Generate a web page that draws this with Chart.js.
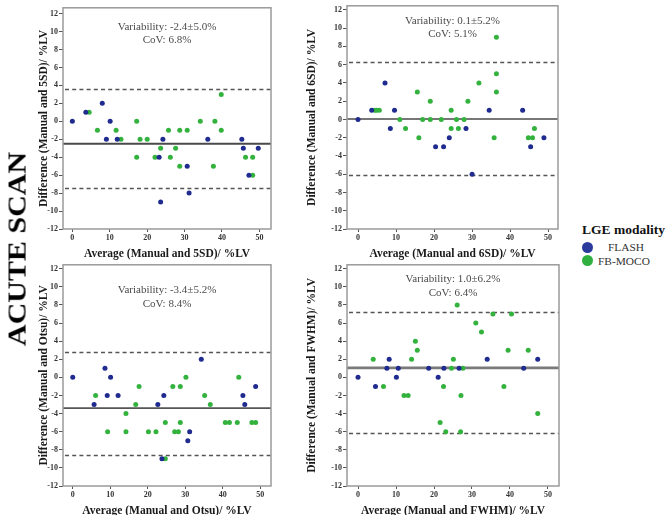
<!DOCTYPE html>
<html>
<head>
<meta charset="utf-8">
<script src="https://cdn.jsdelivr.net/npm/chart.js@4/dist/chart.umd.min.js"></script>
<style>
html,body{margin:0;padding:0;background:#fff;}
body{width:666px;height:515px;position:relative;overflow:hidden;font-family:"Liberation Serif",serif;}
canvas{position:absolute;}
.t{position:absolute;white-space:nowrap;}
</style>
</head>
<body>
<script>
// ---------- data ----------
const methods = ["5SD", "6SD", "Otsu", "FWHM"];
const seriesNames = ["FLASH", "FB-MOCO"];
const xTicks = [0, 10, 20, 30, 40, 50];
const yTicks = [-12, -10, -8, -6, -4, -2, 0, 2, 4, 6, 8, 10, 12];

const flash5SD = [[0,0],[3.6,1],[8,2],[9.1,-2],[10.1,0],[12,-2],[23.2,-4],[23.6,-9],[24.2,-2],[30.7,-5],[31.2,-8],[36.2,-2],[45.3,-2],[45.7,-3],[47.2,-6],[49.7,-3]];
const moco5SD = [[4.5,1],[6.7,-1],[11.7,-1],[13,-2],[17.2,0],[17.2,-4],[18.1,-2],[20,-2],[22.1,-4],[23.6,-3],[25.7,-1],[26.2,-4],[27.6,-3],[28.7,-1],[28.7,-5],[30.7,-1],[34.2,0],[37.7,-5],[38.1,0],[39.8,-1],[39.8,3],[46.3,-4],[48.2,-6],[48.2,-4]];

const flash6SD = [[0,0],[3.6,1],[7.1,4],[8.5,-1],[9.6,1],[20.4,-3],[22.5,-3],[24,-2],[28.4,-1],[30,-6],[34.5,1],[43.3,1],[45.4,-3],[48.9,-2]];
const moco6SD = [[4.4,1],[4.9,1],[5.6,1],[11,0],[12.5,-1],[15.6,3],[16,-2],[17,0],[19,2],[19,0],[21.9,0],[24.5,1],[24.5,-1],[25.9,0],[26.4,-1],[27.9,0],[28.9,2],[31.8,4],[35.8,-2],[36.4,9],[36.4,5],[36.4,3],[44.8,-2],[45.9,-2],[46.4,-1]];

const flashOtsu = [[0,0],[5.7,-3],[8.6,1],[9.2,-2],[10.1,0],[12.1,-2],[22.7,-3],[23.8,-9],[24.3,-2],[30.7,-7],[31.2,-6],[34.3,2],[45.4,-2],[45.9,-3],[48.8,-1]];
const mocoOtsu = [[6.1,-2],[9.3,-6],[14.2,-4],[14.2,-6],[16.8,-3],[17.7,-1],[20.2,-6],[22.2,-6],[24.7,-9],[24.7,-5],[26.7,-1],[27.2,-6],[28.2,-6],[28.7,-1],[28.7,-5],[30.2,0],[35.2,-2],[36.7,-3],[40.7,-5],[41.8,-5],[43.9,-5],[44.3,0],[47.8,-5],[48.8,-5]];

const flashFWHM = [[0,0],[4.6,-1],[7.6,1],[8.2,2],[10.1,0],[10.6,1],[18.6,1],[21.1,0],[22.6,1],[26.6,1],[34,2],[43.6,1],[47.3,2]];
const mocoFWHM = [[4,2],[6.7,-1],[12.1,-2],[13.2,-2],[14.1,2],[15.1,4],[15.6,3],[21.6,-5],[22.5,-1],[23.1,-6],[24.6,1],[25.1,2],[26.1,8],[27,-6],[27.1,-2],[27.6,1],[31,6],[32.5,5],[35.5,7],[38.4,-1],[39.5,3],[40.4,7],[44.8,3],[47.3,-4]];

const flashSets = [flash5SD, flash6SD, flashOtsu, flashFWHM];
const mocoSets = [moco5SD, moco6SD, mocoOtsu, mocoFWHM];

const meanDiff = [-2.5, 0.05, -3.4, 1.05];
const upperLoA = [3.6, 6.3, 2.8, 7.2];
const lowerLoA = [-7.4, -6.1, -8.6, -6.1];
const variabilityText = ["Variability: -2.4±5.0%", "Variability: 0.1±5.2%", "Variability: -3.4±5.2%", "Variability: 1.0±6.2%"];
const covText = ["CoV: 6.8%", "CoV: 5.1%", "CoV: 8.4%", "CoV: 6.4%"];
const sideLabel = "ACUTE SCAN";
const legendTitle = "LGE modality";

// ---------- layout / style ----------
const geom = [
  {cl:30,  l:63,  r:271, t:4,   b:229, xmin:-2.5, xmax:53.1, ymax:12.65, ytp:7.4, xtp:7,   textY:10.5, meanC:'#4a4a4a', meanW:1.8},
  {cl:300, l:347, r:558, t:2,   b:229, xmin:-2.9, xmax:52.6, ymax:12.45, ytp:5.4, xtp:7,   textY:10.8, meanC:'#4a4a4a', meanW:1.6},
  {cl:30,  l:63,  r:271, t:261, b:486, xmin:-2.6, xmax:52.9, ymax:12.43, ytp:7.4, xtp:4.5, textY:9.6,  meanC:'#555',    meanW:1.8},
  {cl:300, l:347, r:559, t:261, b:486, xmin:-2.9, xmax:52.9, ymax:12.43, ytp:5.4, xtp:4.5, textY:10.8, meanC:'#7a7a7a', meanW:2.6}
];
const blue = '#1f2b8e', green = '#34b23e';
Chart.defaults.font.family = "'Liberation Serif', serif";

function panelPlugin(i){
  const g = geom[i];
  return {
    id: 'ba' + i,
    beforeDatasetsDraw(chart){
      const {ctx, chartArea:a, scales:{y}} = chart;
      ctx.save();
      ctx.strokeStyle = '#555'; ctx.lineWidth = 1.3; ctx.setLineDash([4, 3.2]);
      [upperLoA[i], lowerLoA[i]].forEach(v => {
        const py = Math.round(y.getPixelForValue(v)) + 0.5;
        ctx.beginPath(); ctx.moveTo(a.left + 2, py); ctx.lineTo(a.right, py); ctx.stroke();
      });
      ctx.setLineDash([]);
      ctx.strokeStyle = g.meanC; ctx.lineWidth = g.meanW;
      const pm = y.getPixelForValue(meanDiff[i]);
      ctx.beginPath(); ctx.moveTo(a.left, pm); ctx.lineTo(a.right, pm); ctx.stroke();
      ctx.restore();
    },
    afterDraw(chart){
      const {ctx, chartArea:a, scales:{y}} = chart;
      ctx.save();
      ctx.strokeStyle = '#9a9a9a'; ctx.lineWidth = 1.5;
      ctx.strokeRect(a.left, a.top, a.right - a.left, a.bottom - a.top);
      ctx.fillStyle = '#4a4a4a';
      ctx.font = "11px 'Liberation Serif'";
      ctx.textAlign = 'center'; ctx.textBaseline = 'middle';
      const cx = (a.left + a.right) / 2;
      const py = y.getPixelForValue(g.textY);
      ctx.fillText(variabilityText[i], cx, py);
      ctx.fillText(covText[i], cx, py + 13.3);
      ctx.restore();
    }
  };
}

function makePanel(i){
  const g = geom[i];
  const top = g.t - 2;
  const w = g.r - g.cl + 6, h = g.b - top + 32;
  const canvas = document.createElement('canvas');
  canvas.width = w; canvas.height = h;
  canvas.style.left = g.cl + 'px'; canvas.style.top = top + 'px';
  canvas.style.width = w + 'px'; canvas.style.height = h + 'px';
  document.body.appendChild(canvas);
  const yw = g.l - g.cl;
  new Chart(canvas, {
    type: 'scatter',
    data: {
      datasets: [
        {label: seriesNames[0], data: flashSets[i].map(p => ({x:p[0], y:p[1]})), backgroundColor: blue, borderWidth: 0, pointRadius: 2.5},
        {label: seriesNames[1], data: mocoSets[i].map(p => ({x:p[0], y:p[1]})), backgroundColor: green, borderWidth: 0, pointRadius: 2.5}
      ]
    },
    options: {
      responsive: false, animation: false, devicePixelRatio: 1,
      layout: {padding: {left: 0, top: 2, right: 6, bottom: 0}},
      plugins: {legend: {display: false}, tooltip: {enabled: false}},
      scales: {
        x: {
          type: 'linear', min: g.xmin, max: g.xmax,
          afterFit(s){ s.height = 32; },
          afterBuildTicks(s){ s.ticks = xTicks.map(v => ({value: v})); },
          grid: {display: true, drawOnChartArea: false, drawTicks: true, tickLength: 3, color: '#555'},
          border: {display: false},
          ticks: {font: {size: 8, weight: 'bold'}, color: '#333', padding: 1, maxRotation: 0, autoSkip: false},
          title: {display: true, text: `Average (Manual and ${methods[i]})/ %LV`, font: {size: 11.5, weight: 'bold'}, color: '#1a1a1a', padding: {top: g.xtp, bottom: 0}}
        },
        y: {
          type: 'linear', min: -12, max: g.ymax,
          afterFit(s){ s.width = yw; },
          afterBuildTicks(s){ s.ticks = yTicks.map(v => ({value: v})); },
          grid: {display: true, drawOnChartArea: false, drawTicks: true, tickLength: 4, color: '#555'},
          border: {display: false},
          ticks: {font: {size: 8, weight: 'bold'}, color: '#333', padding: 1, autoSkip: false},
          title: {display: true, text: `Difference (Manual and ${methods[i]})/ %LV`, font: {size: 11.5, weight: 'bold'}, color: '#1a1a1a', padding: {top: g.ytp, bottom: 0}}
        }
      }
    },
    plugins: [panelPlugin(i)]
  });
}

for (let i = 0; i < 4; i++) makePanel(i);

// ---------- side label & legend ----------
function addText(txt, css){
  const d = document.createElement('div');
  d.className = 't'; d.textContent = txt;
  Object.assign(d.style, css);
  document.body.appendChild(d);
  return d;
}
addText(sideLabel, {left:'17px', top:'249px', transform:'translate(-50%,-50%) rotate(-90deg) scaleY(0.85)', font:"bold 30px 'Liberation Serif'", color:'#000', lineHeight:'30px'});
addText(legendTitle, {left:'582px', top:'221px', font:"bold 13.5px 'Liberation Serif'", color:'#111', lineHeight:'18px'});
const legendColors = ['#2b3b9c', '#2fb040'];
const legendY = [247, 260.5];
const legendTextX = [608, 598];
seriesNames.forEach((n, k) => {
  const dot = document.createElement('div');
  Object.assign(dot.style, {position:'absolute', left:(587.5-5.5)+'px', top:(legendY[k]-5.5)+'px', width:'11px', height:'11px', borderRadius:'50%', background:legendColors[k]});
  document.body.appendChild(dot);
  addText(n, {left:legendTextX[k]+'px', top:(legendY[k]-7)+'px', font:"11.4px 'Liberation Serif'", color:'#333', lineHeight:'14px'});
});
</script>
</body>
</html>
